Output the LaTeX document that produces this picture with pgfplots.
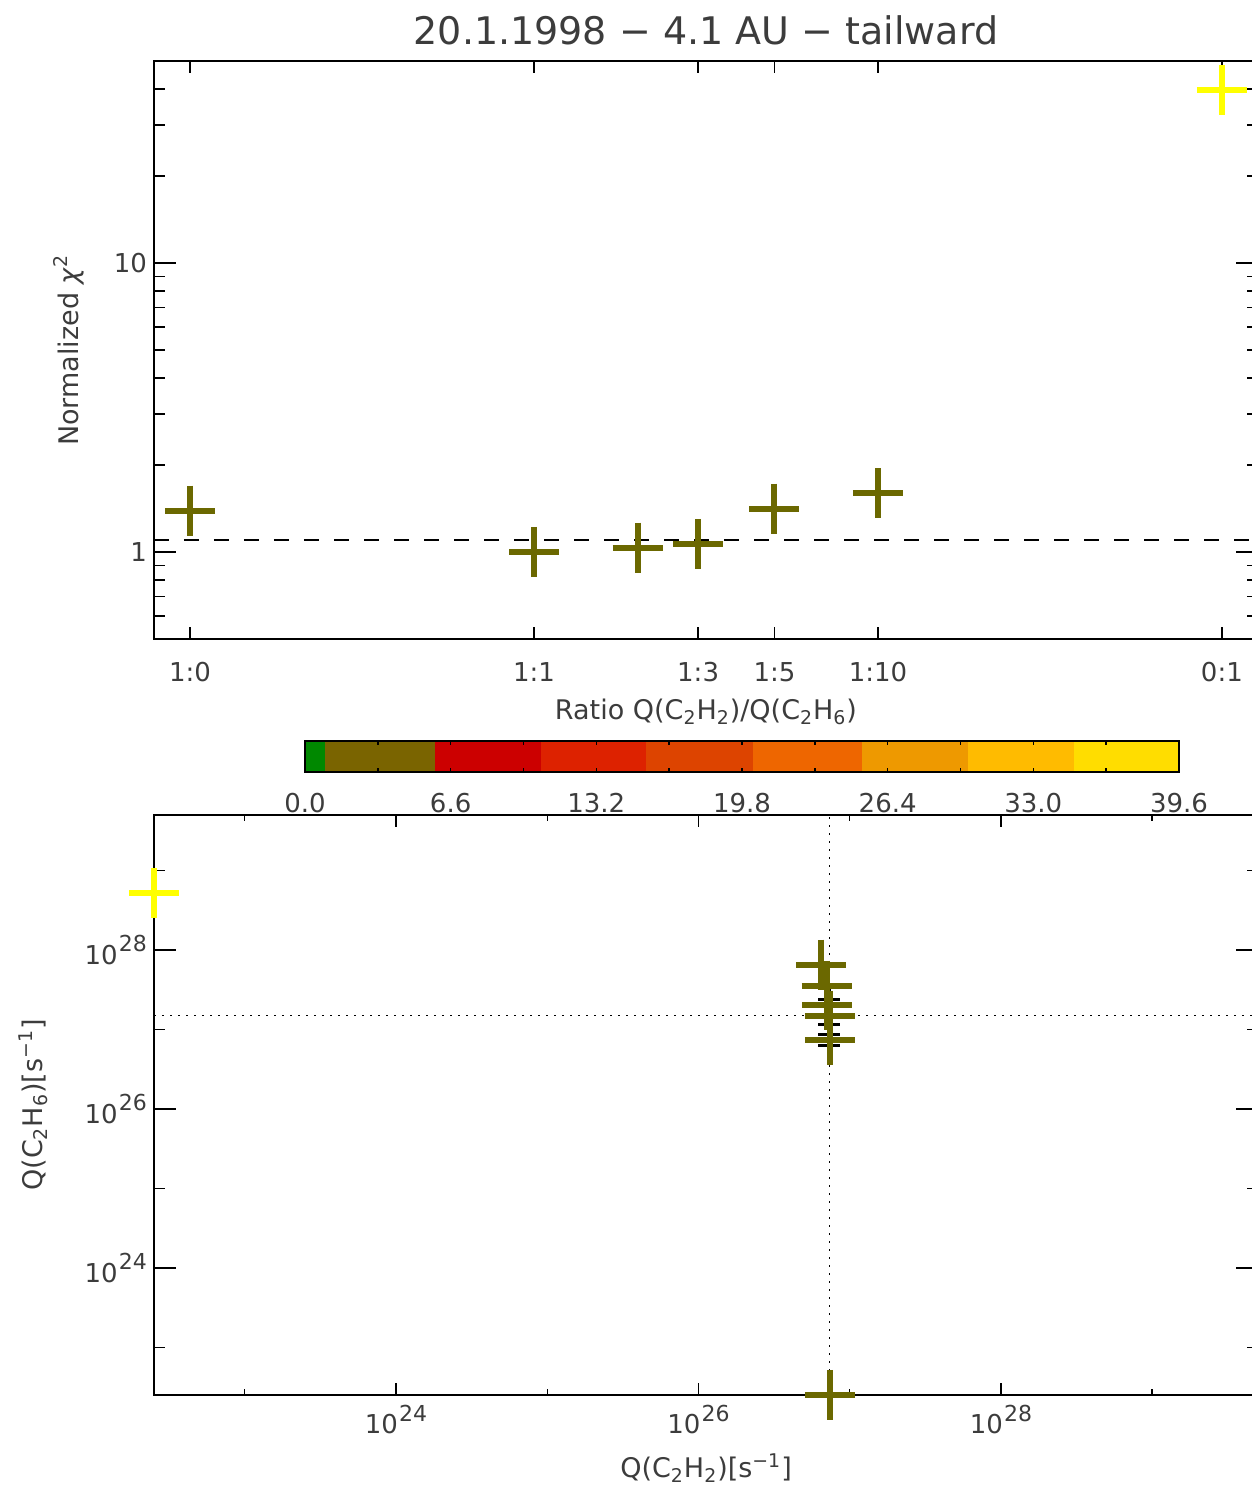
\documentclass[border=0pt]{standalone}
\usepackage{pgfplots}
\pgfplotsset{compat=1.18}
\usepackage{fontspec}
\setmainfont{DejaVu Sans}
\definecolor{olivem}{RGB}{107,104,0}
\definecolor{yellowm}{RGB}{255,255,0}
\definecolor{txt}{RGB}{60,60,60}
\definecolor{cbA}{RGB}{0,136,0}
\definecolor{cbB}{RGB}{122,100,0}
\definecolor{cbC}{RGB}{204,0,0}
\definecolor{cbD}{RGB}{221,34,0}
\definecolor{cbE}{RGB}{221,68,0}
\definecolor{cbF}{RGB}{238,102,0}
\definecolor{cbG}{RGB}{238,153,0}
\definecolor{cbH}{RGB}{255,187,0}
\definecolor{cbI}{RGB}{255,221,0}
\newcommand{\tickfont}{\fontsize{13}{15}\selectfont}
\newcommand{\labfont}{\fontsize{13.5}{16}\selectfont}
\newcommand{\pw}[1]{10\kern0.6pt\raisebox{6.3pt}{\fontsize{11}{12}\selectfont #1}}
\begin{document}
\begin{tikzpicture}
\path[use as bounding box] (0pt,0pt) rectangle (626pt,745pt);
\pgfplotsset{
  every axis/.append style={
    scale only axis, clip=false,
    axis line style={line width=0.9pt, black},
    tick style={line width=0.7pt, black},
    tick align=inside,
    ticklabel style={font=\tickfont, text=txt},
    label style={font=\labfont, text=txt},
  },
}
% ---------- top panel ----------
\begin{axis}[
  at={(77pt,425.5pt)}, anchor=south west, width=552pt, height=289pt,
  xmin=-1.105, xmax=2.105, ymode=log, ymin=0.5, ymax=50,
  xtick={-1,0,0.47712,0.69897,1,2},
  xticklabels={1:0,1:1,1:3,1:5,1:10,0:1},
  ytick={1,10}, yticklabels={1,10},
  minor ytick={0.6,0.7,0.8,0.9,2,3,4,5,6,7,8,9,20,30,40,50},
  xtick style={/pgfplots/major tick length=6pt},
  ytick style={/pgfplots/major tick length=11pt,/pgfplots/minor tick length=5.5pt},
  xticklabel style={yshift=-8pt},
  title={20.1.1998 − 4.1 AU − tailward},
  title style={at={(0.5,1.033)}, anchor=center, font=\fontsize{19}{22}\selectfont, text=txt},
  xlabel={Ratio Q(C\textsubscript{2}H\textsubscript{2})/Q(C\textsubscript{2}H\textsubscript{6})},
  xlabel style={at={(0.5,-0.1263)}, anchor=center},
  ylabel={Normalized \textit{χ}\textsuperscript{2}},
  ylabel style={at={(-0.077,0.5)}, anchor=center},
]
\addplot[black, line width=0.7pt, dash pattern=on 7.5pt off 7.5pt] coordinates {(-1.105,1.1) (2.105,1.1)};
\addplot[only marks, mark=+, mark size=12.5pt, olivem, line width=3pt] coordinates {
(-1,1.39) (0,1.00) (0.30103,1.035) (0.47712,1.066) (0.69897,1.413) (1,1.60)};
\addplot[only marks, mark=+, mark size=12.5pt, yellowm, line width=3pt] coordinates {(2,39.6)};
\end{axis}
% ---------- colour bar ----------
\begin{axis}[
  at={(152.5pt,359pt)}, anchor=south west, width=437pt, height=15.5pt,
  xmin=0, xmax=39.6, ymin=0, ymax=1, ytick=\empty,
  xtick={0,6.6,13.2,19.8,26.4,33,39.6},
  xticklabels={0.0,6.6,13.2,19.8,26.4,33.0,39.6},
  minor xtick={3.3,9.9,16.5,23.1,29.7,36.3},
  major tick length=2pt, minor tick length=2pt,
  xticklabel style={yshift=-7pt},
  axis on top,
]
\addplot[fill=cbA, draw=none] coordinates {(0,1) (0.89,1)} \closedcycle;
\addplot[fill=cbB, draw=none] coordinates {(0.89,1) (5.89,1)} \closedcycle;
\addplot[fill=cbC, draw=none] coordinates {(5.89,1) (10.69,1)} \closedcycle;
\addplot[fill=cbD, draw=none] coordinates {(10.69,1) (15.45,1)} \closedcycle;
\addplot[fill=cbE, draw=none] coordinates {(15.45,1) (20.28,1)} \closedcycle;
\addplot[fill=cbF, draw=none] coordinates {(20.28,1) (25.22,1)} \closedcycle;
\addplot[fill=cbG, draw=none] coordinates {(25.22,1) (30.04,1)} \closedcycle;
\addplot[fill=cbH, draw=none] coordinates {(30.04,1) (34.84,1)} \closedcycle;
\addplot[fill=cbI, draw=none] coordinates {(34.84,1) (39.6,1)} \closedcycle;
\end{axis}
% ---------- bottom panel ----------
\begin{axis}[
  at={(77pt,47.5pt)}, anchor=south west, width=552pt, height=290pt,
  xmode=log, ymode=log,
  xmin=2.512e22, xmax=5.012e29, ymin=2.512e22, ymax=5.012e29,
  xtick={1e24,1e26,1e28},
  xticklabels={\pw{24},\pw{26},\pw{28}},
  ytick={1e24,1e26,1e28},
  yticklabels={\pw{24},\pw{26},\pw{28}},
  minor xtick={1e23,1e25,1e27,1e29}, minor ytick={1e23,1e25,1e27,1e29},
  xtick style={/pgfplots/major tick length=6pt,/pgfplots/minor tick length=3pt},
  ytick style={/pgfplots/major tick length=11pt,/pgfplots/minor tick length=5.5pt},
  xticklabel style={yshift=-1.5pt},
  xlabel={Q(C\textsubscript{2}H\textsubscript{2})[s\textsuperscript{−1}]},
  xlabel style={at={(0.5,-0.1259)}, anchor=center},
  ylabel={Q(C\textsubscript{2}H\textsubscript{6})[s\textsuperscript{−1}]},
  ylabel style={at={(-0.1096,0.5)}, anchor=center},
]
\addplot[black, line width=0.7pt, dash pattern=on 0.75pt off 3.25pt] coordinates {(7.35e26,2.512e22) (7.35e26,5.012e29)};
\addplot[black, line width=0.7pt, dash pattern=on 0.75pt off 3.25pt] coordinates {(2.512e22,1.49e27) (5.012e29,1.49e27)};
\addplot[only marks, mark=+, mark size=5.5pt, black, line width=1.5pt] coordinates {
(7.35e26,2.37e27) (7.35e26,1.15e27) (7.35e26,8.6e26) (7.35e26,6.2e26)};
\addplot[only marks, mark=+, mark size=12.5pt, olivem, line width=3pt] coordinates {
(6.44e26,6.55e27) (7.03e26,3.56e27) (7.10e26,2.03e27) (7.38e26,1.49e27) (7.40e26,7.4e26) (7.40e26,2.512e22)};
\addplot[only marks, mark=+, mark size=12.5pt, yellowm, line width=3pt] coordinates {(2.512e22,5.19e28)};
\end{axis}
\end{tikzpicture}
\end{document}
